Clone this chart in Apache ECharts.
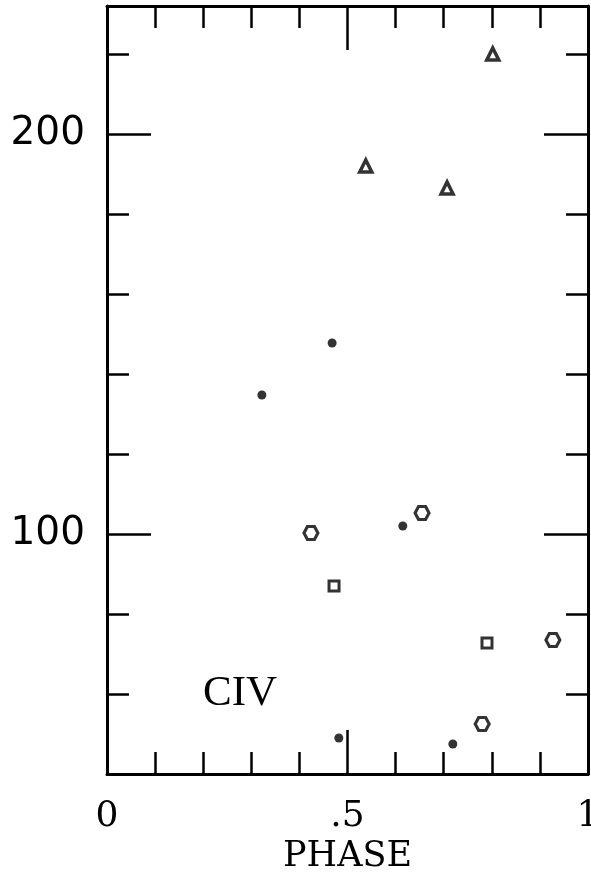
<!DOCTYPE html>
<html>
<head>
<meta charset="utf-8">
<script src="https://cdn.jsdelivr.net/npm/echarts@6/dist/echarts.min.js"></script>
<style>
html,body{margin:0;padding:0;background:#fff;}
#chart{width:591px;height:884px;}
</style>
</head>
<body>
<div id="chart"></div>
<script>
// Data
const triPhase = [0.538, 0.707, 0.802];
const triValue = [192, 186.5, 220];
const dotPhase = [0.322, 0.468, 0.615, 0.482, 0.719];
const dotValue = [134.75, 147.75, 102, 49, 47.5];
const hexPhase = [0.424, 0.655, 0.927, 0.780];
const hexValue = [100.25, 105.25, 73.5, 52.5];
const sqPhase = [0.472, 0.790];
const sqValue = [87, 72.75];

const xMinorTicks = [0.1, 0.2, 0.3, 0.4, 0.6, 0.7, 0.8, 0.9];
const xMajorTicks = [0.5];
const xLabelValues = [0, 0.5, 1];
const xLabelTexts = ['0', '.5', '1'];
const yMinorTicks = [60, 80, 120, 140, 160, 180, 220];
const yMajorTicks = [100, 200];
const yLabelValues = [100, 200];

const X_MIN = 0, X_MAX = 1, Y_MIN = 40, Y_MAX = 232;

const chart = echarts.init(document.getElementById('chart'), null, {renderer: 'canvas'});
const lineStyle = {color: '#000', width: 3};
const tickStyle = {color: '#000', width: 2.5};

function xAxis(pos, ticks, len, showLine, labels) {
  return {
    type: 'value', position: pos, min: X_MIN, max: X_MAX,
    axisLine: {show: showLine, onZero: false, lineStyle: lineStyle},
    axisTick: {show: true, inside: true, length: len, customValues: ticks, lineStyle: tickStyle},
    splitLine: {show: false},
    axisLabel: labels ? {
      show: true, customValues: xLabelValues, margin: 25, hideOverlap: false,
      fontFamily: 'DejaVu Serif', fontSize: 36, color: '#000',
      formatter: v => { const i = xLabelValues.findIndex(t => Math.abs(t - v) < 1e-9); return i >= 0 ? xLabelTexts[i] : ''; }
    } : {show: false},
    name: labels ? 'PHASE' : '',
    nameLocation: 'middle', nameGap: 54,
    nameTextStyle: {fontFamily: 'DejaVu Serif', fontSize: 35, color: '#000'}
  };
}
function yAxis(pos, ticks, len, showLine, labels) {
  return {
    type: 'value', position: pos, min: Y_MIN, max: Y_MAX,
    axisLine: {show: showLine, onZero: false, lineStyle: lineStyle},
    axisTick: {show: true, inside: true, length: len, customValues: ticks, lineStyle: tickStyle},
    splitLine: {show: false},
    axisLabel: labels ? {
      show: true, customValues: yLabelValues, margin: 22,
      fontFamily: 'DejaVu Sans', fontSize: 39, color: '#000',
      padding: [0, 0, 14, 0],
      formatter: v => String(v)
    } : {show: false}
  };
}

function pts(xs, ys) { return xs.map((x, i) => [x, ys[i]]); }

const hexPath = 'path://M25,0 L75,0 L100,50 L75,100 L25,100 L0,50 Z';

chart.setOption({
  animation: false,
  backgroundColor: '#fff',
  grid: {left: 107, right: 3, top: 6, height: 768, containLabel: false, outerBoundsMode: 'none'},
  xAxis: [
    xAxis('bottom', xMinorTicks, 22, true, true),
    xAxis('bottom', xMajorTicks, 44, false, false),
    xAxis('top', xMinorTicks, 22, true, false),
    xAxis('top', xMajorTicks, 44, false, false)
  ],
  yAxis: [
    yAxis('left', yMinorTicks, 22, true, true),
    yAxis('left', yMajorTicks, 44, false, false),
    yAxis('right', yMinorTicks, 22, true, false),
    yAxis('right', yMajorTicks, 44, false, false)
  ],
  series: [
    {type: 'scatter', xAxisIndex: 0, yAxisIndex: 0, data: pts(triPhase, triValue),
     symbol: 'triangle', symbolSize: 12, itemStyle: {color: '#fff', borderColor: '#000', borderWidth: 3.5}},
    {type: 'scatter', xAxisIndex: 0, yAxisIndex: 0, data: pts(dotPhase, dotValue),
     symbol: 'circle', symbolSize: 9, itemStyle: {color: '#000', borderWidth: 0}},
    {type: 'scatter', xAxisIndex: 0, yAxisIndex: 0, data: pts(hexPhase, hexValue),
     symbol: hexPath, symbolSize: [14, 13], itemStyle: {color: '#fff', borderColor: '#000', borderWidth: 3}},
    {type: 'scatter', xAxisIndex: 0, yAxisIndex: 0, data: pts(sqPhase, sqValue),
     symbol: 'rect', symbolSize: 10, itemStyle: {color: '#fff', borderColor: '#000', borderWidth: 3}}
  ],
  graphic: [
    {type: 'text', left: 203, top: 672,
     style: {text: 'CIV', fontFamily: 'Liberation Serif', fontSize: 43, fill: '#000'}}
  ]
});
</script>
</body>
</html>
